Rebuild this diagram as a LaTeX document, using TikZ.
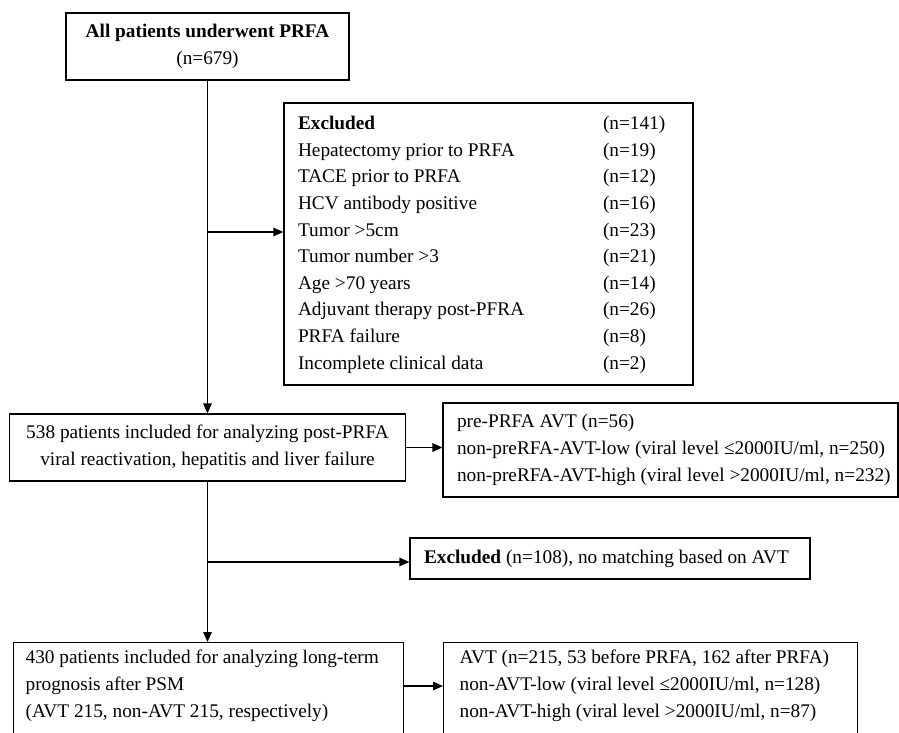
\documentclass[tikz,border=0pt]{standalone}
\usepackage{fontspec}
\setmainfont{Liberation Serif}
\usetikzlibrary{arrows.meta}

\begin{document}
\begin{tikzpicture}[x=1pt, y=-1pt,
    box/.style={draw, line width=1.2pt, inner sep=0pt, font=\fontsize{19.3}{27}\selectfont},
    arr/.style={line width=1.2pt, -{Triangle[length=10pt, width=8.5pt]}}]
  \useasboundingbox (0,0) rectangle (899,732);

  \node[box, minimum width=283, minimum height=67, align=center] (all) at (207.5,46.5)
    {\textbf{All patients underwent PRFA}\\(n=679)};

  \node[box, minimum width=409, minimum height=282, font=\fontsize{19.3}{26.6}\selectfont] (excl) at (488.5,244)
    {\begin{tabular}{@{}p{305pt}@{}p{76pt}@{}}
      \textbf{Excluded} & (n=141)\\
      Hepatectomy prior to PRFA & (n=19)\\
      TACE prior to PRFA & (n=12)\\
      HCV antibody positive & (n=16)\\
      Tumor >5cm & (n=23)\\
      Tumor number >3 & (n=21)\\
      Age >70 years & (n=14)\\
      Adjuvant therapy post-PFRA & (n=26)\\
      PRFA failure & (n=8)\\
      Incomplete clinical data & (n=2)
    \end{tabular}};

  \node[box, minimum width=396, minimum height=67, align=center] (box2) at (207.5,447.5)
    {538 patients included for analyzing post-PRFA\\viral reactivation, hepatitis and liver failure};

  \node[box, minimum height=94, inner xsep=14pt] (box3) at (670.5,450)
    {\parbox{427pt}{\mbox{pre-PRFA AVT (n=56)}\\
     \mbox{non-preRFA-AVT-low (viral level ≤2000IU/ml, n=250)}\\
     \mbox{non-preRFA-AVT-high (viral level >2000IU/ml, n=232)}}};

  \node[box, minimum height=41, inner xsep=14pt] (excl2) at (610,558.5)
    {\parbox{372pt}{\mbox{\textbf{Excluded} (n=108), no matching based on AVT}}};

  \node[box, anchor=north west, inner xsep=12pt, inner ysep=7pt] (box4) at (13,642)
    {\parbox[t][100pt][t]{366pt}{\mbox{430 patients included for analyzing long-term}\\
      prognosis after PSM\\(AVT 215, non-AVT 215, respectively)}};

  \node[box, anchor=north west, inner xsep=16pt, inner ysep=7pt] (box5) at (443,642)
    {\parbox[t][100pt][t]{382pt}{\mbox{AVT (n=215, 53 before PRFA, 162 after PRFA)}\\
      non-AVT-low (viral level ≤2000IU/ml, n=128)\\
      non-AVT-high (viral level >2000IU/ml, n=87)}};

  % trunk and branches
  \draw[arr] (all.south) -- (box2.north);
  \coordinate (b1) at (207.5,232);
  \draw[arr] (b1) -- (b1 -| excl.west);
  \draw[arr] (box2.east) -- (box2.east -| box3.west);
  \draw[arr] (box2.south) -- (box2.south |- box4.north);
  \coordinate (b2) at (207.5,562);
  \draw[arr] (b2) -- (b2 -| excl2.west);
  \draw[arr] ([yshift=-44pt]box4.north east) coordinate (b3) -- (b3 -| box5.west);
\end{tikzpicture}
\end{document}
